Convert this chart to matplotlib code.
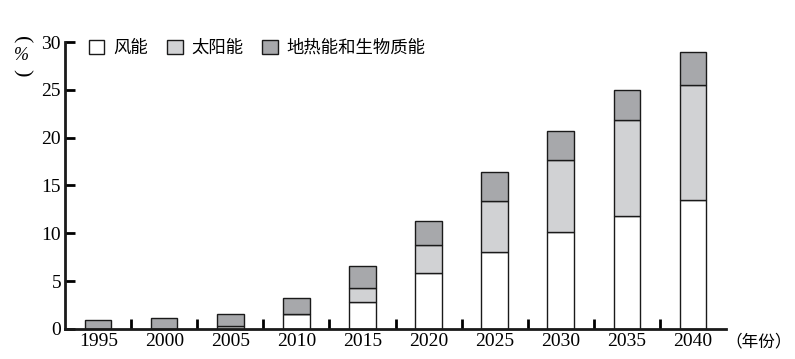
import numpy as np
import matplotlib
matplotlib.use("Agg")
import matplotlib.pyplot as plt
from matplotlib.patches import Patch

plt.rcParams['font.family'] = ['Liberation Serif', 'Noto Sans CJK SC', 'DejaVu Sans']

years = ["1995", "2000", "2005", "2010", "2015", "2020", "2025", "2030", "2035", "2040"]
wind = [0.0, 0.0, 0.3, 1.55, 2.8, 5.8, 8.0, 10.1, 11.8, 13.45]
solar = [0.0, 0.0, 0.0, 0.0, 1.45, 2.95, 5.35, 7.6, 10.0, 12.05]
geo_bio = [0.9, 1.15, 1.3, 1.65, 2.35, 2.5, 3.05, 3.0, 3.2, 3.5]
series_names = ["风能", "太阳能", "地热能和生物质能"]
colors = ["#ffffff", "#d1d2d4", "#a7a8ab"]

fig = plt.figure(figsize=(7.95, 3.59), dpi=100)
ax = fig.add_axes([0.082, 0.084, 0.831, 0.799])

x = np.arange(len(years))
w = 0.4
bottom = np.zeros(len(years))
for vals, c in zip([wind, solar, geo_bio], colors):
    vals = np.array(vals)
    ax.bar(x, vals, w, bottom=bottom, color=c, edgecolor="#1a1a1a", linewidth=1.0)
    bottom += vals

ax.set_xlim(-0.5, len(years) - 0.5)
ax.set_ylim(0, 30)
ax.set_yticks([0, 5, 10, 15, 20, 25, 30])
ax.set_xticks(x)
ax.set_xticklabels(years)
ax.set_xticks(np.arange(0.5, len(years) - 0.5, 1.0), minor=True)
ax.tick_params(axis="x", which="major", length=0, labelsize=14, pad=3)
ax.tick_params(axis="x", which="minor", direction="in", length=7, width=2)
ax.tick_params(axis="y", direction="in", length=7, width=2, labelsize=14, pad=3)
for s in ["top", "right"]:
    ax.spines[s].set_visible(False)
for s in ["left", "bottom"]:
    ax.spines[s].set_linewidth(2)
    ax.spines[s].set_color("#1a1a1a")

handles = [Patch(facecolor=c, edgecolor="#1a1a1a", linewidth=1.0) for c in colors]
leg = ax.legend(handles, series_names, ncol=3, frameon=False, loc="upper left",
                bbox_to_anchor=(0.012, 1.065), prop={'family': 'Noto Sans CJK SC', 'size': 12.5},
                handlelength=0.9, handleheight=0.9, handletextpad=0.5, columnspacing=1.1)

# vertical unit label
fig.text(0.027, 0.890, "(", rotation=-90, fontsize=16, ha="center", va="center")
fig.text(0.027, 0.845, "%", fontsize=13, style="italic", ha="center", va="center")
fig.text(0.027, 0.798, ")", rotation=-90, fontsize=16, ha="center", va="center")

ax.text(9.5, -0.045, "（年份）", transform=ax.get_xaxis_transform(), ha="left", va="center",
        fontsize=12, family=['Noto Sans CJK SC'])

fig.savefig("out.png", dpi=100)
